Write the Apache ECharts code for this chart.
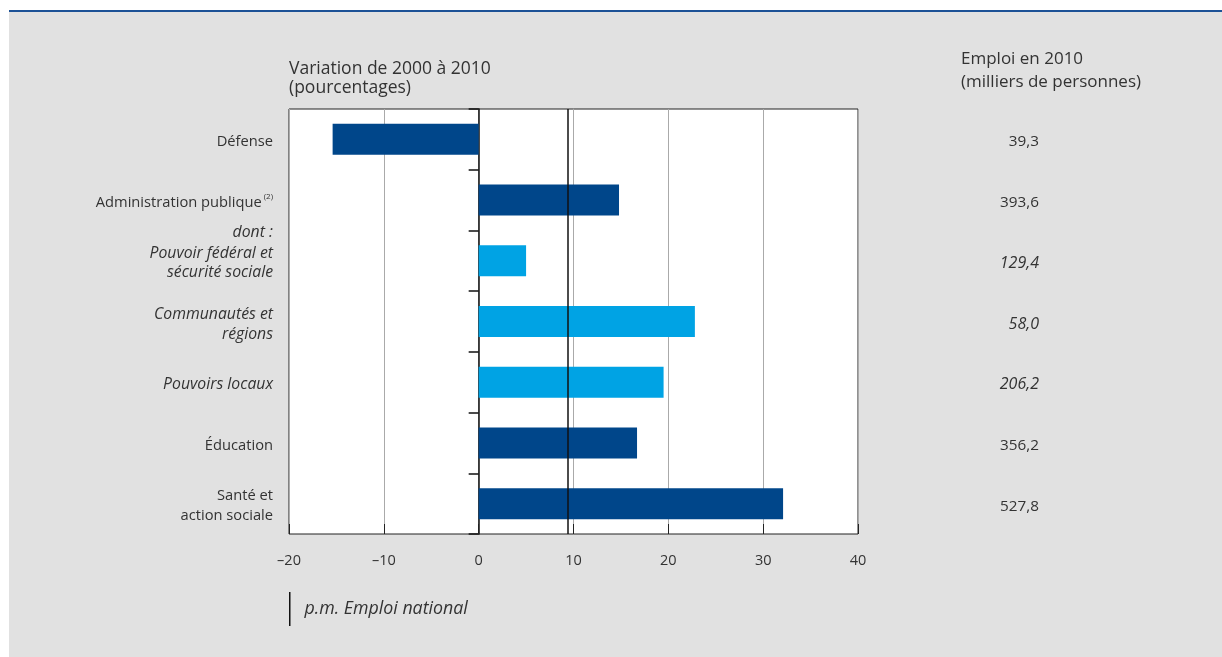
<!DOCTYPE html>
<html>
<head>
<meta charset="utf-8">
<script src="https://cdn.jsdelivr.net/npm/echarts@6/dist/echarts.min.js"></script>
<style>
  html, body { margin: 0; padding: 0; background: #ffffff; }
  #chart { width: 1222px; height: 657px; }
</style>
</head>
<body>
<div id="chart"></div>
<script>
// Branches d'activité (de haut en bas)
const categories = [
  'Défense',
  'Administration publique',
  'Pouvoir fédéral et\nsécurité sociale',
  'Communautés et\nrégions',
  'Pouvoirs locaux',
  'Éducation',
  'Santé et\naction sociale'
];
// Sous-composantes de l'administration publique (en italique, bleu clair)
const isSubItem = [false, false, true, true, true, false, false];
// Renvois de note et préfixes
const notes = ['', '(2)', '', '', '', '', ''];
const prefixes = ['', '', 'dont :', '', '', '', ''];

// Variation de l'emploi de 2000 à 2010 (pourcentages)
const variation = [-15.4, 14.8, 5.0, 22.8, 19.5, 16.7, 32.1];
// Emploi en 2010 (milliers de personnes)
const emploi2010 = [39.3, 393.6, 129.4, 58.0, 206.2, 356.2, 527.8];
// p.m. Emploi national (variation en pourcentages)
const emploiNational = 9.4;

// Axe des variations
const xMin = -20, xMax = 40, xStep = 10;

const DARK = '#00468a';
const LIGHT = '#00a3e4';
const TEXT = '#333333';
const FONT = '"Open Sans", "Noto Sans", sans-serif';
const LABEL_SIZE = 14.7;
const ITALIC_SIZE = 15.8;
const VALUE_SIZE = 15.3;
const VALUE_ITALIC_SIZE = 16;

function frNumber(v) {
  return v.toFixed(1).replace('.', ',');
}

const chart = echarts.init(document.getElementById('chart'), null, { renderer: 'canvas' });

const labelRich = {
  n: { fontSize: LABEL_SIZE, lineHeight: 20, color: TEXT, fontFamily: FONT },
  i: { fontSize: ITALIC_SIZE, lineHeight: 20, color: TEXT, fontFamily: FONT, fontStyle: 'italic' },
  ii: { fontSize: ITALIC_SIZE, lineHeight: 19, color: TEXT, fontFamily: FONT, fontStyle: 'italic' },
  d: { fontSize: ITALIC_SIZE, lineHeight: 23, color: TEXT, fontFamily: FONT, fontStyle: 'italic' },
  gap: { fontSize: ITALIC_SIZE, lineHeight: 24 },
  sup: { fontSize: 8, lineHeight: 20, color: TEXT, fontFamily: FONT, verticalAlign: 'top', padding: [0, 0, 3, 2] },
  vn: { fontSize: VALUE_SIZE, lineHeight: 20, color: TEXT, fontFamily: FONT },
  vi: { fontSize: VALUE_ITALIC_SIZE, lineHeight: 20, color: TEXT, fontFamily: FONT, fontStyle: 'italic' }
};

function categoryLabel(value, index) {
  const style = isSubItem[index] ? 'i' : 'n';
  if (prefixes[index]) {
    const lines = value.split('\n').map(l => '{ii|' + l + '}');
    return '{d|' + prefixes[index] + '}\n' + lines.join('\n') + '\n{gap| }';
  }
  const lines = value.split('\n').map(l => '{' + style + '|' + l + '}');
  if (notes[index]) {
    lines[lines.length - 1] += '{sup|' + notes[index] + '}';
  }
  return lines.join('\n');
}

const option = {
  backgroundColor: '#ffffff',
  animation: false,
  textStyle: { fontFamily: FONT },
  graphic: [
    { type: 'rect', z: -10, silent: true, shape: { x: 9, y: 10, width: 1213, height: 647 }, style: { fill: '#e1e1e1' } },
    { type: 'rect', z: -9, silent: true, shape: { x: 9, y: 10, width: 1213, height: 2 }, style: { fill: '#1c5196' } }
  ],
  title: [
    {
      text: 'Variation de 2000 à 2010\n(pourcentages)',
      left: 284, top: 55,
      textStyle: { fontSize: 17.5, fontWeight: 'normal', color: TEXT, lineHeight: 19, fontFamily: FONT }
    },
    {
      text: 'Emploi en 2010\n(milliers de personnes)',
      left: 956, top: 43,
      textStyle: { fontSize: 17, fontWeight: 'normal', color: TEXT, lineHeight: 23, fontFamily: FONT }
    }
  ],
  legend: {
    left: 289, top: 592,
    padding: 0,
    orient: 'horizontal',
    icon: 'rect',
    itemWidth: 1.5, itemHeight: 34,
    data: ['p.m. Emploi national'],
    textStyle: { fontSize: 17.8, fontStyle: 'italic', color: TEXT, fontFamily: FONT, padding: [2, 0, 0, 9] },
    selectedMode: false
  },
  grid: {
    left: 289, top: 109, width: 569, height: 425,
    show: true, backgroundColor: '#ffffff', borderColor: '#222222', borderWidth: 1,
    containLabel: false
  },
  xAxis: {
    type: 'value',
    min: xMin, max: xMax, interval: xStep,
    axisLine: { show: false },
    axisTick: { show: true, inside: true, length: 10, lineStyle: { color: '#222222', width: 1 } },
    splitLine: { show: true, lineStyle: { color: '#aaaaaa', width: 1 } },
    axisLabel: {
      fontSize: 14.5, color: TEXT, margin: 19, fontFamily: FONT,
      formatter: v => String(v).replace('-', '–')
    }
  },
  yAxis: [
    {
      // libellés des branches, en marge gauche
      type: 'category', data: categories, inverse: true, position: 'left',
      axisLine: { show: false, onZero: false },
      axisTick: { show: false },
      splitLine: { show: false },
      axisLabel: { margin: 16, formatter: categoryLabel, rich: labelRich, align: 'right', padding: [5, 0, 0, 0] }
    },
    {
      // axe vertical sur le zéro, avec graduations entre les branches
      type: 'category', data: categories, inverse: true, position: 'left',
      axisLine: { show: true, onZero: true, lineStyle: { color: '#111111', width: 1.5 } },
      axisTick: { show: true, length: 10, lineStyle: { color: '#111111', width: 1.5 } },
      axisLabel: { show: false },
      splitLine: { show: false }
    },
    {
      // colonne de l'emploi en 2010
      type: 'category', data: categories, inverse: true, position: 'right',
      axisLine: { show: false, onZero: false },
      axisTick: { show: false },
      splitLine: { show: false },
      axisLabel: {
        margin: 181, align: 'right', padding: [5, 0, 0, 0],
        formatter: (v, i) => '{' + (isSubItem[i] ? 'vi' : 'vn') + '|' + frNumber(emploi2010[i]) + '}',
        rich: labelRich
      }
    }
  ],
  series: [
    {
      name: 'Variation',
      type: 'bar',
      yAxisIndex: 0,
      barWidth: 31,
      data: variation.map((v, i) => ({ value: v, itemStyle: { color: isSubItem[i] ? LIGHT : DARK } })),
      z: 2
    },
    {
      name: 'p.m. Emploi national',
      type: 'line',
      yAxisIndex: 0,
      data: [],
      color: '#111111',
      markLine: {
        silent: true,
        symbol: 'none',
        label: { show: false },
        lineStyle: { color: '#111111', width: 1.5, type: 'solid' },
        data: [{ xAxis: emploiNational }]
      },
      z: 5
    }
  ]
};

chart.setOption(option);
</script>
</body>
</html>
